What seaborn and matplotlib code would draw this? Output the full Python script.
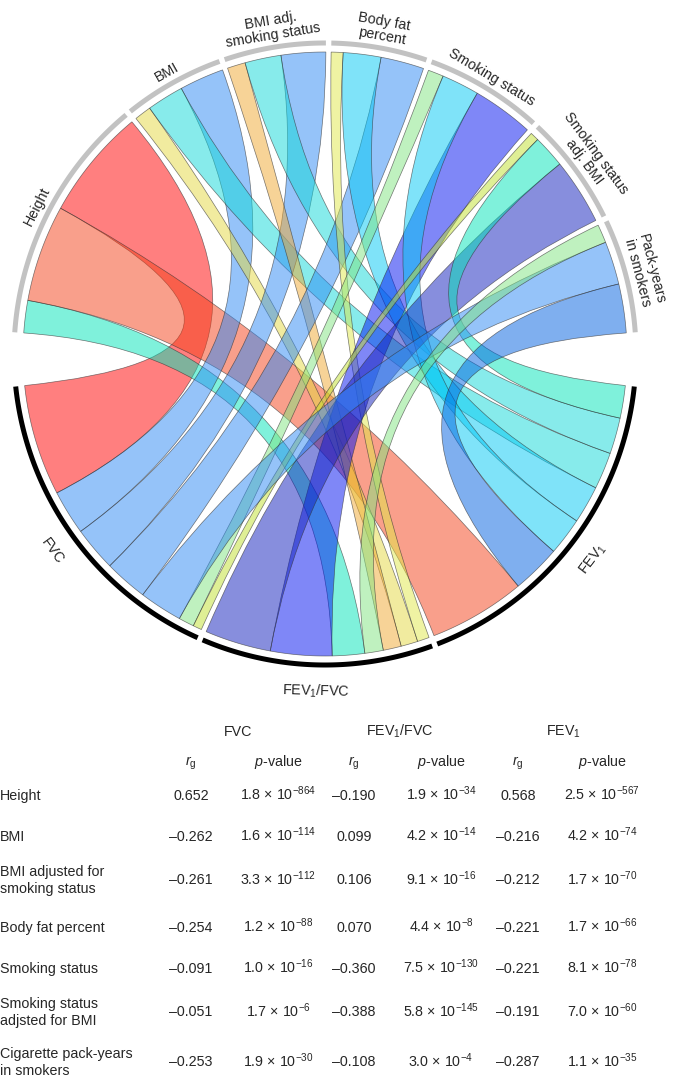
# Chord diagram of genetic correlations + table below
import numpy as np
import matplotlib.pyplot as plt
import seaborn as sns
from matplotlib.path import Path
from matplotlib.patches import PathPatch

# data
traits = ["Height", "BMI", "BMI adjusted for\nsmoking status", "Body fat percent",
          "Smoking status", "Smoking status\nadjsted for BMI", "Cigarette pack-years\nin smokers"]
trait_short = ["Height", "BMI", "BMI adj.\nsmoking status", "Body fat\npercent",
               "Smoking status", "Smoking status\nadj. BMI", "Pack-years\nin smokers"]
lung = ["FVC", "FEV$_1$/FVC", "FEV$_1$"]

rg_fvc = [0.652, -0.262, -0.261, -0.254, -0.091, -0.051, -0.253]
rg_ratio = [-0.190, 0.099, 0.106, 0.070, -0.360, -0.388, -0.108]
rg_fev1 = [0.568, -0.216, -0.212, -0.221, -0.221, -0.191, -0.287]

p_fvc_mant = [1.8, 1.6, 3.3, 1.2, 1.0, 1.7, 1.9]
p_fvc_exp = [-864, -114, -112, -88, -16, -6, -30]
p_ratio_mant = [1.9, 4.2, 9.1, 4.4, 7.5, 5.8, 3.0]
p_ratio_exp = [-34, -14, -16, -8, -130, -145, -4]
p_fev1_mant = [2.5, 4.2, 1.7, 1.7, 8.1, 7.0, 1.1]
p_fev1_exp = [-567, -74, -70, -66, -78, -60, -35]

# one colour per rank of r_g (lowest -> highest)
rank_palette = sns.color_palette([
    "#111fbd", "#0111f1", "#0161e1", "#2d89f5", "#2d89f5", "#2d89f5", "#2d89f5",
    "#01c9f5", "#11d9d9", "#11d9d9", "#01e5b9", "#01e5b9", "#81e581", "#81e581",
    "#c1e12d", "#e1e949", "#e5d941", "#f1a931", "#f54119", "#ff0101"])

sns.set_theme(style="white")
plt.rcParams['font.family'] = ['Liberation Sans', 'DejaVu Sans']
plt.rcParams['mathtext.fontset'] = 'custom'
plt.rcParams['mathtext.rm'] = 'Liberation Sans'
plt.rcParams['mathtext.it'] = 'Liberation Sans:italic'
plt.rcParams['mathtext.bf'] = 'Liberation Sans:bold'

fig = plt.figure(figsize=(6.77, 10.76), dpi=100)
ax = fig.add_axes([0, 0, 1, 1])
ax.set_xlim(0, 677)
ax.set_ylim(1076, 0)
ax.axis('off')

CX, CY = 325, 354
R_LINK, R_TRACK = 302, 311
SIDE_GAP, GAP = 4, 1

rg = np.array([rg_fvc, rg_ratio, rg_fev1]).T   # traits x lung
w = np.abs(rg)
uniq = np.unique(rg)
rank = np.searchsorted(uniq, rg)

n_top, n_bot = rg.shape
k = (180 - 2 * SIDE_GAP - GAP * (n_top - 1)) / w.sum()


def pt(theta, r):
    t = np.radians(theta)
    return CX + r * np.cos(t), CY - r * np.sin(t)


# sector ranges, laid out clockwise
top_rng = []
ang = 180 - SIDE_GAP
for i in range(n_top):
    top_rng.append((ang, ang - w[i].sum() * k))
    ang = ang - w[i].sum() * k - GAP
bot_side = (180 - GAP * (n_bot - 1) - w.sum() * k) / 2
bot_rng = {}
ang = 360 - bot_side
for j in [2, 1, 0]:
    bot_rng[j] = (ang, ang - w[:, j].sum() * k)
    ang = ang - w[:, j].sum() * k - GAP

# link positions inside sectors (ascending |rg| clockwise)
link_top = {}
for i in range(n_top):
    pos = top_rng[i][0]
    for j in np.argsort(w[i], kind='stable'):
        link_top[i, j] = (pos - w[i, j] * k, pos)
        pos -= w[i, j] * k
link_bot = {}
for j in range(n_bot):
    pos = bot_rng[j][0]
    for i in np.argsort(w[:, j], kind='stable'):
        link_bot[i, j] = (pos - w[i, j] * k, pos)
        pos -= w[i, j] * k

# ribbons
for i in range(n_top):
    for j in range(n_bot):
        a0, a1 = link_top[i, j]
        b0, b1 = link_bot[i, j]
        verts, codes = [], []
        for t in np.linspace(a0, a1, 30):
            verts.append(pt(t, R_LINK))
            codes.append(Path.LINETO)
        codes[0] = Path.MOVETO
        verts += [(CX, CY), pt(b0, R_LINK)]
        codes += [Path.CURVE3, Path.CURVE3]
        for t in np.linspace(b0, b1, 30)[1:]:
            verts.append(pt(t, R_LINK))
            codes.append(Path.LINETO)
        verts += [(CX, CY), pt(a0, R_LINK), pt(a0, R_LINK)]
        codes += [Path.CURVE3, Path.CURVE3, Path.CLOSEPOLY]
        col = rank_palette[rank[i, j]]
        ax.add_patch(PathPatch(Path(verts, codes), facecolor=(*col, 0.5),
                               edgecolor=(0.2, 0.2, 0.2, 0.65), lw=0.5))

# tracks and labels
for i in range(n_top):
    s, e = top_rng[i]
    th = np.linspace(s, e, 100)
    x, y = pt(th, R_TRACK)
    ax.plot(x, y, color='#c2c2c2', lw=3.6, solid_capstyle='butt')
    mid = (s + e) / 2
    lx, ly = pt(mid, 316)
    ax.text(lx, ly, trait_short[i], rotation=mid - 90, rotation_mode='anchor',
            ha='center', va='bottom', fontsize=10.3, linespacing=1.05)
for j in range(n_bot):
    s, e = bot_rng[j]
    th = np.linspace(s, e, 100)
    x, y = pt(th, R_TRACK)
    ax.plot(x, y, color='black', lw=3.6, solid_capstyle='butt')
    mid = (s + e) / 2
    lx, ly = pt(mid, 329)
    ax.text(lx, ly, lung[j], rotation=mid + 90, rotation_mode='anchor',
            ha='center', va='top', fontsize=10.3)

# table
FS = 10.3
head_x = [238, 400, 563]
rg_x = [191, 354, 518]
p_x = [278, 441, 602]
row_y = [795, 836, 879.5, 927, 968, 1011.5, 1061.5]

for j in range(3):
    ax.text(head_x[j], 736, lung[j], ha='center', va='baseline', fontsize=FS)
    ax.text(rg_x[j], 766, r'$\mathit{r}_{\rm g}$', ha='center', va='baseline', fontsize=FS)
    ax.text(p_x[j], 766, r'$\mathit{p}$-value', ha='center', va='baseline', fontsize=FS)

p_mant = [p_fvc_mant, p_ratio_mant, p_fev1_mant]
p_exp = [p_fvc_exp, p_ratio_exp, p_fev1_exp]
for i, name in enumerate(traits):
    yc = row_y[i]
    lines = name.split("\n")
    for li, line in enumerate(lines):
        yy = yc + 5 + (li - (len(lines) - 1) / 2) * 17
        ax.text(0, yy, line, ha='left', va='baseline', fontsize=FS)
    for j in range(3):
        v = rg[i, j]
        txt = f"{v:.3f}".replace("-", "\u2013")
        ax.text(rg_x[j], yc + 5, txt, ha='center', va='baseline', fontsize=FS)
        ptxt = f"{p_mant[j][i]:.1f} \u00d7 10" + rf"$^{{{p_exp[j][i]}}}$"
        ax.text(p_x[j], yc + 5, ptxt, ha='center', va='baseline', fontsize=FS)

fig.savefig("out.png", dpi=100)
